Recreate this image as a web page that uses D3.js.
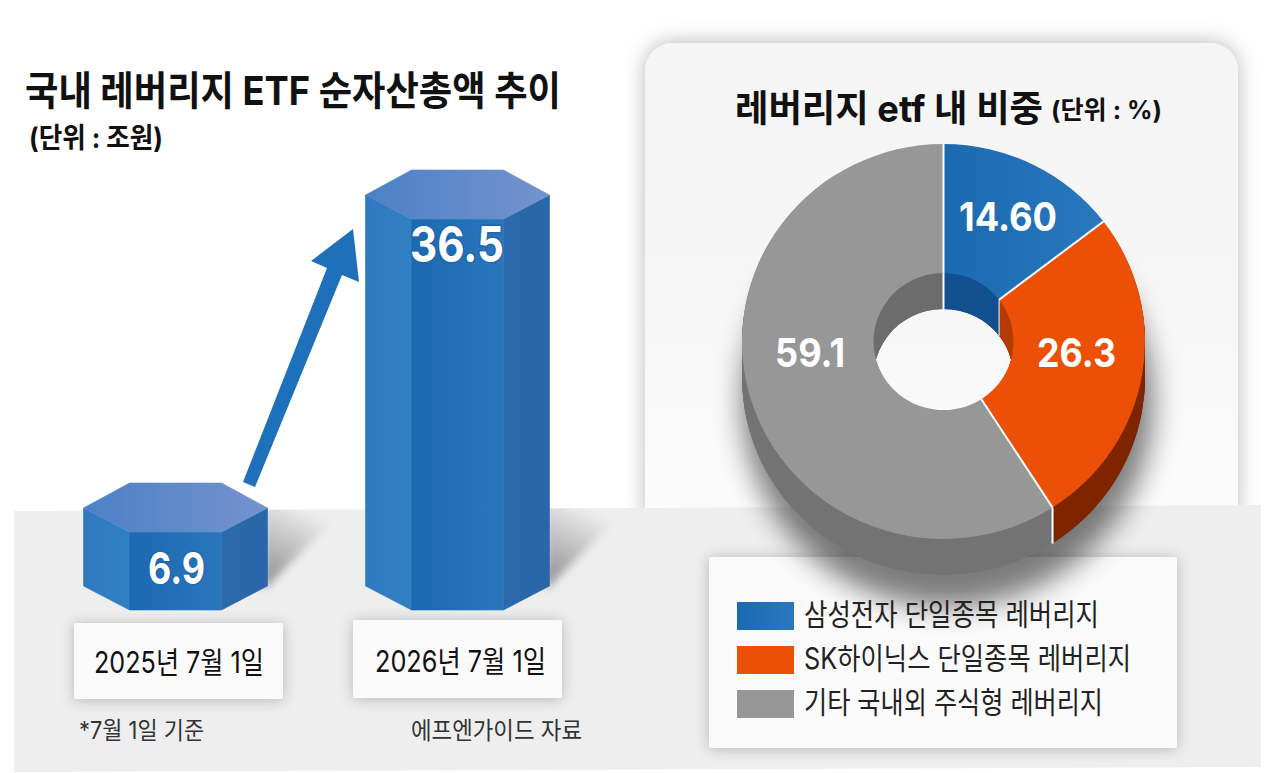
<!DOCTYPE html>
<html lang="ko">
<head>
<meta charset="utf-8">
<script src="https://cdn.jsdelivr.net/npm/d3@7"></script>
<style>
html,body{margin:0;padding:0;background:#fff;overflow:hidden}
svg{display:block}
text{font-family:"Inter","Noto Sans CJK KR","Noto Sans",sans-serif}
</style>
</head>
<body>
<svg id="c" width="1286" height="773"></svg>
<script>
const barCategories = ["2025년 7월 1일", "2026년 7월 1일"];
const barValues = [6.9, 36.5];
const barValueLabels = ["6.9", "36.5"];
const pieCategories = ["삼성전자 단일종목 레버리지", "SK하이닉스 단일종목 레버리지", "기타 국내외 주식형 레버리지"];
const pieValues = [14.6, 26.3, 59.1];
const pieValueLabels = ["14.60", "26.3", "59.1"];
const titleLeft = "국내 레버리지 ETF 순자산총액 추이";
const unitLeft = "(단위 : 조원)";
const titleRight = "레버리지 etf 내 비중";
const unitRight = "(단위 : %)";
const noteLeft = "*7월 1일 기준";
const noteRight = "에프엔가이드 자료";

const svg = d3.select("#c");
const defs = svg.append("defs");

function linGrad(id, stops, user){
  const g = defs.append("linearGradient").attr("id", id);
  if(user){ g.attr("gradientUnits","userSpaceOnUse").attr("x1",user[0]).attr("y1",user[1]).attr("x2",user[2]).attr("y2",user[3]); }
  stops.forEach((c,i)=>g.append("stop").attr("offset", i/(stops.length-1)).attr("stop-color", c));
  return `url(#${id})`;
}
function blur(id, sd){
  defs.append("filter").attr("id",id).attr("x","-40%").attr("y","-40%").attr("width","180%").attr("height","180%")
    .append("feGaussianBlur").attr("stdDeviation",sd);
}
function drop(id, sd, dy, op){
  defs.append("filter").attr("id",id).attr("x","-30%").attr("y","-30%").attr("width","160%").attr("height","160%")
    .append("feDropShadow").attr("dx",0).attr("dy",dy).attr("stdDeviation",sd).attr("flood-color","#000").attr("flood-opacity",op);
}
blur("b14",14); blur("b4",4);
drop("panelShadow",10,-1,0.28); drop("boxShadow",7,1,0.24);

// ---- backdrop
const panelFill = linGrad("panelG",["#f5f5f5","#f6f6f6","#fcfcfc"]);
d3.select(defs.node()).select("#panelG").attr("x1",0).attr("y1",0).attr("x2",0).attr("y2",1);
svg.append("rect").attr("x",645).attr("y",43).attr("width",593).attr("height",490).attr("rx",28)
  .attr("fill",panelFill).attr("filter","url(#panelShadow)");
const floor = [[14,511],[1261,505],[1261,767],[14,772]];
svg.append("polygon").attr("points",floor.join(" ")).attr("fill","#eeeeee");
defs.append("clipPath").attr("id","floorClip").append("polygon").attr("points",floor.join(" "));

// ---- scales
const x = d3.scalePoint().domain(barCategories).range([175.5,457.5]);
const h = d3.scaleLinear().domain([barValues[0],barValues[1]]).range([78,391]);
const baseline = 610, hw = 92, iw = 46;

// bar cast shadows on the floor
const shadowG = svg.append("g").attr("clip-path","url(#floorClip)");
barCategories.forEach((c,i)=>{
  const cx = x(c), id = "cast"+i;
  const g = defs.append("linearGradient").attr("id",id).attr("gradientUnits","userSpaceOnUse")
    .attr("x1",cx+hw).attr("y1",baseline-20).attr("x2",cx+hw+40).attr("y2",baseline-100);
  g.append("stop").attr("offset",0).attr("stop-color","#000").attr("stop-opacity",0.42);
  g.append("stop").attr("offset",1).attr("stop-color","#000").attr("stop-opacity",0);
  shadowG.append("polygon")
    .attr("points",[[cx+hw-4,baseline-20],[cx+hw+64,baseline-88],[cx+hw+64,baseline-110],[cx+hw-4,baseline-110]].join(" "))
    .attr("fill",`url(#${id})`).attr("filter","url(#b4)");
});

// ---- hexagonal bars
const fLeft = linGrad("fLeft",["#2f79bf","#3180c4"]);
const fMid = linGrad("fMid",["#1b69b0","#2a76bc"]);
const fRight = linGrad("fRight",["#2a69ac","#2a66a8"]);
const fTop = linGrad("fTop",["#4c81c6","#7592cd"]);
const bars = svg.append("g").selectAll("g").data(barCategories.map((c,i)=>({c,v:barValues[i],l:barValueLabels[i]}))).join("g");
bars.each(function(d){
  const g = d3.select(this), cx = x(d.c), H = h(d.v);
  const b = baseline, t = baseline-H;
  const side = 24, back = 49;
  const pts = a=>a.map(p=>p.join(",")).join(" ");
  const face = (fill,a)=>g.append("polygon").attr("fill",fill).attr("stroke",fill).attr("stroke-width",0.6).attr("points",pts(a));
  face(fLeft,[[cx-hw,t-side],[cx-iw,t],[cx-iw,b],[cx-hw,b-side]]);
  face(fRight,[[cx+iw,t],[cx+hw,t-side],[cx+hw,b-side],[cx+iw,b]]);
  face(fMid,[[cx-iw,t],[cx+iw,t],[cx+iw,b],[cx-iw,b]]);
  face(fTop,[[cx-hw,t-side],[cx-iw,t-back],[cx+iw,t-back],[cx+hw,t-side],[cx+iw,t],[cx-iw,t]]);
});

// ---- arrow
const ax0 = x(barCategories[0]), ax1 = x(barCategories[1]);
const arrow = [[ax0+67.5,482],[ax1-130.5,268],[ax1-146.5,261],[ax1-104.5,229],[ax1-98.5,282],[ax1-115.5,275],[ax0+79.5,487]];
svg.append("polygon").attr("points",arrow.join(" ")).attr("fill","#1f70bb");

// ---- legend and date boxes
function box(X,Y,W,H){
  svg.append("rect").attr("x",X).attr("y",Y).attr("width",W).attr("height",H).attr("rx",2).attr("fill","#fafafa").attr("filter","url(#boxShadow)");
}
box(709,557,468,191);
box(74,623,209,76);
box(353,620,209,78);

// ---- 3-D donut
const cxP = 943.5, cyP = 341.5, sy = 0.98, depth = 36;
const pieGen = d3.pie().sort(null).value(d=>d);
const arcs = pieGen(pieValues);
const R = 201.5, r0 = 70;
const arc = d3.arc().innerRadius(r0).outerRadius(R);
const sideColors = [
  "#17568f",
  linGrad("sideO",["#7e2500","#9a3000"],[1054,0,1145,0]),
  linGrad("sideG",["#737373","#5e5e5e","#4c4846"],[742,0,1054,0])
];
const innerColors = ["#13508f", "#b43c04", linGrad("innerG",["#6c6c6c","#5f5f5f"],[873,0,943,0])];
const topColors = [linGrad("topB",["#1b69b0","#2978be"]), "#ec4f06", "#979797"];

// soft shadow below the donut
svg.append("path").attr("d",d3.arc().innerRadius(130).outerRadius(R+4).startAngle(0).endAngle(2*Math.PI)())
  .attr("transform",`translate(${cxP+4},${cyP+60})`).attr("fill","#000").attr("opacity",0.5).attr("filter","url(#b14)");

const ringTf = dy => `translate(${cxP},${cyP+dy}) scale(1,${sy})`;
const layers = d3.range(depth,0,-1);
const side = svg.append("g");
layers.forEach(dy=>{
  side.append("g").selectAll("path").data(arcs).join("path")
    .attr("d",arc).attr("transform",ringTf(dy)).attr("fill",(d,i)=>sideColors[i]);
});
// inner wall, seen through the top opening
defs.append("clipPath").attr("id","holeClip").append("ellipse").attr("cx",cxP).attr("cy",cyP).attr("rx",r0).attr("ry",r0*sy);
const wall = svg.append("g").attr("clip-path","url(#holeClip)");
layers.forEach(dy=>{
  wall.append("g").selectAll("path").data(arcs).join("path")
    .attr("d",arc).attr("transform",ringTf(dy)).attr("fill",(d,i)=>innerColors[i]);
});
// top face
svg.append("g").selectAll("path").data(arcs).join("path")
  .attr("d",arc).attr("transform",ringTf(0)).attr("fill",(d,i)=>topColors[i]);

// white seams
const seam = svg.append("g").attr("stroke","#fff").attr("stroke-width",2).attr("fill","none");
arcs.forEach(a=>{
  const A = a.startAngle;
  const p0 = d3.pointRadial(A,r0), p1 = d3.pointRadial(A,R);
  seam.append("line").attr("x1",cxP+p0[0]).attr("y1",cyP+p0[1]*sy).attr("x2",cxP+p1[0]).attr("y2",cyP+p1[1]*sy);
});
const seamIn = arcs[0].startAngle, seamOut = arcs[2].startAngle, seamMid = arcs[1].startAngle;
[[seamIn,r0],[seamMid,r0],[seamOut,R]].forEach(([A,rr])=>{
  const p = d3.pointRadial(A,rr);
  seam.append("line").attr("x1",cxP+p[0]).attr("y1",cyP+p[1]*sy).attr("x2",cxP+p[0]).attr("y2",cyP+p[1]*sy+depth)
    .attr("stroke-width",A===seamMid?1:2);
});

// ---- text
function txt(s,X,Y,size,weight,fill,len){
  const t = svg.append("text").attr("x",X).attr("y",Y).attr("font-size",size).attr("font-weight",weight).attr("fill",fill).text(s);
  if(len) t.attr("textLength",len).attr("lengthAdjust","spacingAndGlyphs");
  return t;
}
txt(titleLeft,25,105,40,700,"#111",536);
txt(unitLeft,29,148,28,700,"#111",134);
txt(titleRight,735,122,37,700,"#111",308);
txt(unitRight,1051,119,25,700,"#111",111);

txt(barValueLabels[1],410,262,49,700,"#fff",94).attr("paint-order","stroke").attr("stroke","#1f66ad").attr("stroke-width",3);
txt(barValueLabels[0],148,584,44,700,"#fff",57).attr("paint-order","stroke").attr("stroke","#1f66ad").attr("stroke-width",2);

const dateX = [94,375], dateY = [673,672];
barCategories.forEach((c,i)=>txt(c,dateX[i],dateY[i],30,400,"#111",i?171:170));
txt(noteLeft,79,739,24,400,"#333",125);
txt(noteRight,411,739,24,400,"#333",171);

const pieLabelPos = [[959,231,98],[1037,367,79],[775,367,70]];
pieValueLabels.forEach((s,i)=>txt(s,pieLabelPos[i][0],pieLabelPos[i][1],40,700,"#fff",pieLabelPos[i][2]));

// ---- legend
const legendColors = [linGrad("legB",["#1b69b0","#2a79bf"]),"#ec4f06","#969696"];
const legY = d3.scalePoint().domain(pieCategories).range([602,690]);
const legW = [295,327,299];
pieCategories.forEach((c,i)=>{
  svg.append("rect").attr("x",737).attr("y",legY(c)).attr("width",57).attr("height",28).attr("fill",legendColors[i]);
  txt(c,804,legY(c)+23,30,400,"#222",legW[i]);
});
</script>
</body>
</html>
